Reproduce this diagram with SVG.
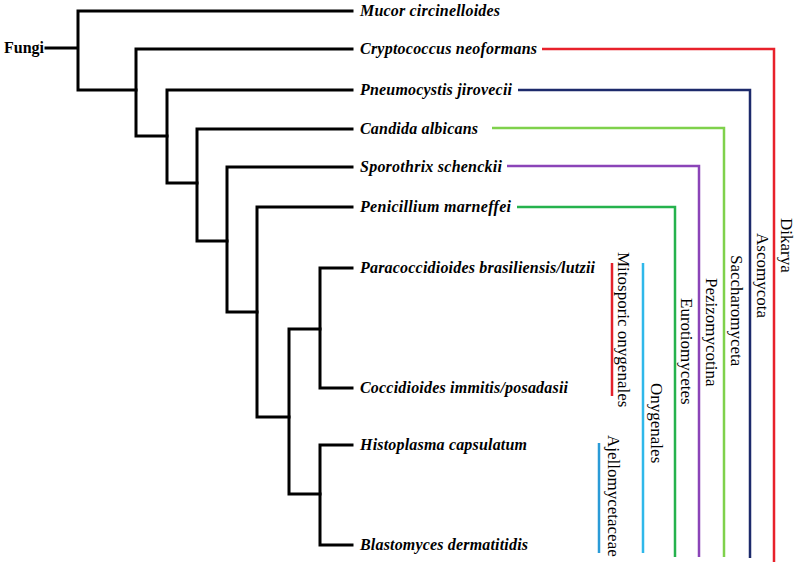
<svg xmlns="http://www.w3.org/2000/svg" width="800" height="566" viewBox="0 0 800 566">
<style>
.tree{fill:none;stroke:#000;stroke-width:3;stroke-linecap:square}
.lbl{font-family:"Liberation Serif",serif;font-weight:bold;font-style:italic;font-size:16px;fill:#000}
.root{font-family:"Liberation Serif",serif;font-weight:bold;font-size:16px;fill:#000}
.clade{font-family:"Liberation Serif",serif;font-size:17px;fill:#000}
.cl{fill:none;stroke-width:2.5}
</style>
<rect width="800" height="566" fill="#fff"/>
<g id="connectors" class="tree">
<path d="M46 48H78M78 11V90M78 11H352M78 90H136"/>
<path d="M136 49V136M136 49H352M136 136H167"/>
<path d="M167 90V183M167 90H352M167 183H197"/>
<path d="M197 129V241M197 129H352M197 241H227"/>
<path d="M227 167V312M227 167H352M227 312H257"/>
<path d="M257 207V417M257 207H352M257 417H289"/>
<path d="M289 329V494M289 329H320M289 494H320"/>
<path d="M320 268V388M320 268H352M320 388H352"/>
<path d="M320 445V545M320 445H352M320 545H352"/>
</g>
<g id="root"><text class="root" x="4" y="53">Fungi</text></g>
<g id="mucor"><text class="lbl" x="360" y="16" textLength="140">Mucor circinelloides</text></g>
<g id="cryptococcus"><text class="lbl" x="360" y="54" textLength="177">Cryptococcus neoformans</text></g>
<g id="pneumocystis"><text class="lbl" x="360" y="95" textLength="152">Pneumocystis jirovecii</text></g>
<g id="candida"><text class="lbl" x="360" y="134" textLength="118">Candida albicans</text></g>
<g id="sporothrix"><text class="lbl" x="360" y="172" textLength="142">Sporothrix schenckii</text></g>
<g id="penicillium"><text class="lbl" x="360" y="212" textLength="151">Penicillium marneffei</text></g>
<g id="paracoccidioides"><text class="lbl" x="360" y="273" textLength="235">Paracoccidioides brasiliensis/lutzii</text></g>
<g id="coccidioides"><text class="lbl" x="360" y="393" textLength="208">Coccidioides immitis/posadasii</text></g>
<g id="histoplasma"><text class="lbl" x="360" y="450" textLength="167">Histoplasma capsulatum</text></g>
<g id="blastomyces"><text class="lbl" x="360" y="550" textLength="168">Blastomyces dermatitidis</text></g>

<g id="dikarya">
<path class="cl" stroke="#e8212b" d="M542 49H774V562"/>
<text class="clade" transform="translate(781,218) rotate(90)">Dikarya</text>
</g>
<g id="ascomycota">
<path class="cl" stroke="#1c2a6b" d="M518 90H750V558"/>
<text class="clade" transform="translate(757,233) rotate(90)">Ascomycota</text>
</g>
<g id="saccharomyceta">
<path class="cl" stroke="#7fd14c" d="M492 128H724V557"/>
<text class="clade" transform="translate(731,255) rotate(90)">Saccharomyceta</text>
</g>
<g id="pezizomycotina">
<path class="cl" stroke="#8b44b8" d="M507 166H699V557"/>
<text class="clade" transform="translate(706,278) rotate(90)">Pezizomycotina</text>
</g>
<g id="eurotiomycetes">
<path class="cl" stroke="#25b24d" d="M517 207H675V557"/>
<text class="clade" transform="translate(681,298) rotate(90)">Eurotiomycetes</text>
</g>
<g id="onygenales">
<path class="cl" stroke="#2fb8ea" d="M643 263V553"/>
<text class="clade" transform="translate(651,383) rotate(90)">Onygenales</text>
</g>
<g id="mitosporic">
<path class="cl" stroke="#e3212b" d="M612 263V396"/>
<text class="clade" transform="translate(618,252) rotate(90)">Mitosporic onygenales</text>
</g>
<g id="ajellomycetaceae">
<path class="cl" stroke="#2a9bd7" d="M599 443V553"/>
<text class="clade" transform="translate(608,435) rotate(90)">Ajellomycetaceae</text>
</g>
</svg>
